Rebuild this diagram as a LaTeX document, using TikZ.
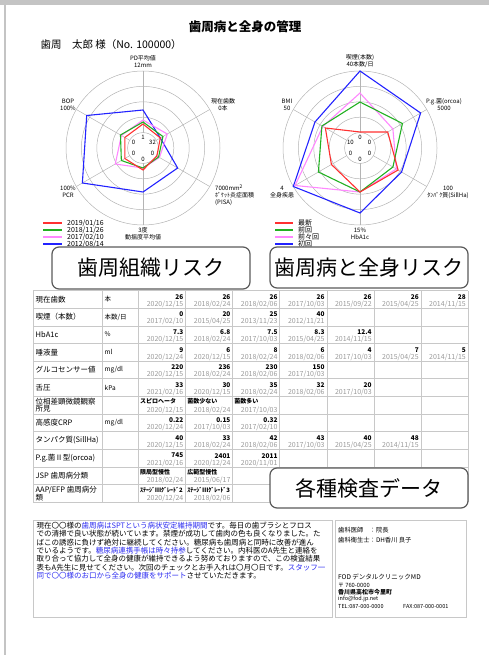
\documentclass[tikz,border=0pt]{standalone}
\usepackage{fontspec}
\setmainfont{Noto Sans CJK JP}
\usetikzlibrary{calc}

\definecolor{pageedge}{HTML}{C4C4C4}
\definecolor{gridgray}{HTML}{B4B4B4}
\definecolor{rulegray}{HTML}{C8C8C8}
\definecolor{dategray}{HTML}{9A9A9A}
\definecolor{boxgray}{HTML}{5A5A5A}
\definecolor{srred}{HTML}{FF3030}
\definecolor{srgreen}{HTML}{22B022}
\definecolor{srpink}{HTML}{FF88FF}
\definecolor{srblue}{HTML}{2222FF}
\definecolor{memoblue}{HTML}{2A2AF0}

\tikzset{
  ring/.style={draw=gridgray,line width=0.5pt},
  minval/.style={font=\fontsize{6}{7}\selectfont,inner sep=0pt},
  axislabel/.style={font=\fontsize{6}{7}\selectfont,align=center,inner sep=0pt},
  series/.style={line width=1.1pt,line join=miter},
  legendline/.style={line width=1.8pt},
  legendtext/.style={font=\fontsize{7}{8}\selectfont,anchor=west,inner sep=0pt},
  riskbox/.style={draw=boxgray,line width=1.2pt,rounded corners=7pt,fill=white,
    font=\fontsize{21}{21}\selectfont,inner sep=0pt},
  rule/.style={draw=rulegray,line width=0.6pt},
  rowlabel/.style={font=\fontsize{7.5}{6.5}\selectfont,anchor=west,align=left,inner sep=0pt},
  unitlabel/.style={font=\fontsize{6.5}{7}\selectfont,anchor=west,inner sep=0pt},
  cellval/.style={font=\fontsize{6.5}{7}\selectfont\bfseries,anchor=east,inner sep=0pt},
  celltext/.style={font=\fontsize{6}{7}\selectfont\bfseries,anchor=west,inner sep=0pt},
  celldate/.style={font=\fontsize{7}{7}\selectfont,text=dategray,anchor=east,inner sep=0pt},
  memo/.style={font=\fontsize{7.5}{8.3}\selectfont,align=left,inner sep=0pt},
  contact/.style={font=\fontsize{6.3}{7}\selectfont,anchor=west,inner sep=0pt}
}

\begin{document}
\begin{tikzpicture}[x=1pt,y=-1pt]
  % 1. Page edge and heading
  \useasboundingbox (0,0) rectangle (489,655);
  \fill[pageedge] (0,0) rectangle (489,5);
  \fill[pageedge] (4,5) rectangle (6,655);
  \node[font=\fontsize{12.5}{14}\selectfont\bfseries] (title) at (245,27) {歯周病と全身の管理};
  \node[font=\fontsize{10.5}{12}\selectfont,anchor=west] (patient) at (37,45) {歯周　太郎 様（No. 100000）};

  % 2. Left radar (periodontal tissue)
  \coordinate (lc) at (143,148);
  \foreach \k in {1,...,5}
    \draw[ring] (lc) circle[radius=\k*15.4pt];
  \foreach \a/\m in {90/1,30/32,-30/0,-90/0,-150/0,150/0} {
    \draw[ring] ($(lc)+(\a:15.4pt)$) -- ($(lc)+(\a:77pt)$);
    \node[minval] (lmin\a) at ($(lc)+(\a:11pt)$) {\m};
  }
  \node[axislabel] (lpd) at (143,61.5) {PD平均値\\12mm};
  \node[axislabel] (lteeth) at (223,105) {現在歯数\\0本};
  \node[axislabel,align=left,anchor=north west] (lpisa) at (215,184.5) {7000mm\textsuperscript{2}\\ﾎﾟｹｯﾄ炎症面積\\(PISA)};
  \node[axislabel] (lmob) at (143,233.5) {3度\\動揺度平均値};
  \node[axislabel] (lpcr) at (68,191.5) {100\%\\PCR};
  \node[axislabel] (lbop) at (68,105) {BOP\\100\%};
  \begin{scope}[shift={(lc)}]
    \draw[series,srblue] (90:38pt) -- (30:20pt) -- (-30:40pt) -- (-90:44pt) -- (-150:70pt) -- (150:65pt) -- cycle;
    \draw[series,srpink] (90:28pt) -- (30:28pt) -- (-30:19pt) -- (-90:20pt) -- (-150:32pt) -- (150:25pt) -- cycle;
    \draw[series,srgreen] (90:26pt) -- (30:23pt) -- (-30:18pt) -- (-90:20pt) -- (-150:25pt) -- (150:26pt) -- cycle;
    \draw[series,srred] (90:24pt) -- (30:20pt) -- (-30:16pt) -- (-90:22pt) -- (-150:21pt) -- (150:21pt) -- cycle;
  \end{scope}
  \foreach \i/\clr/\t in {0/srred/{2019/01/16},1/srgreen/{2018/11/26},2/srpink/{2017/02/10},3/srblue/{2012/08/14}} {
    \draw[legendline,\clr] (43,{223+7*\i}) -- (62,{223+7*\i});
    \node[legendtext] (lleg\i) at (67,{223+7*\i}) {\t};
  }
  \node[riskbox,minimum width=198pt,minimum height=42pt] (tissue) at (151,268) {歯周組織リスク};

  % 3. Right radar (systemic)
  \coordinate (rc) at (360,148);
  \foreach \k in {1,...,5}
    \draw[ring] (rc) circle[radius=\k*15.4pt];
  \foreach \a/\m in {90/0,30/0,-30/0,-90/0,-150/0,150/10} {
    \draw[ring] ($(rc)+(\a:15.4pt)$) -- ($(rc)+(\a:77pt)$);
    \node[minval] (rmin\a) at ($(rc)+(\a:11pt)$) {\m};
  }
  \node[axislabel] (rsmoke) at (360,61.5) {喫煙(本数)\\40本数/日};
  \node[axislabel] (rpg) at (444,105) {P.g.菌(orcoa)\\5000};
  \node[axislabel] (rprot) at (448,192.5) {100\\ﾀﾝﾊﾟｸ質(SillHa)};
  \node[axislabel] (rhba) at (360,233.5) {15\%\\HbA1c};
  \node[axislabel] (rdis) at (282,192.5) {4\\全身疾患};
  \node[axislabel] (rbmi) at (287,105) {BMI\\50};
  \begin{scope}[shift={(rc)}]
    \draw[series,srblue] (90:77pt) -- (30:70pt) -- (-30:48pt) -- (-90:65pt) -- (-150:77pt) -- (150:52pt) -- cycle;
    \draw[series,srpink] (90:55pt) -- (30:38pt) -- (-30:42pt) -- (-90:44pt) -- (-150:75pt) -- (150:43pt) -- cycle;
    \draw[series,srgreen] (90:46pt) -- (30:49pt) -- (-30:38pt) -- (-90:44pt) -- (-150:48pt) -- (150:44pt) -- cycle;
    \draw[series,srred] (90:16pt) -- (30:32pt) -- (-30:44pt) -- (-90:44pt) -- (-150:33pt) -- (150:40pt) -- cycle;
  \end{scope}
  \foreach \i/\clr/\t in {0/srred/最新,1/srgreen/前回,2/srpink/前々回,3/srblue/初回} {
    \draw[legendline,\clr] (275,{223+7*\i}) -- (293,{223+7*\i});
    \node[legendtext] (rleg\i) at (298,{223+7*\i}) {\t};
  }
  \node[riskbox,minimum width=198pt,minimum height=41pt] (systemic) at (369,267.5) {歯周病と全身リスク};

  % 4. Test data table
  \foreach \i in {0,...,12}
    \draw[rule] (33,{290.5+17.65*\i}) -- (468,{290.5+17.65*\i});
  \foreach \x in {33,102,138.5,185.6,232.6,279.7,326.8,373.9,420.9,468}
    \draw[rule] (\x,290.5) -- (\x,502.3);
  \foreach \rw/\lab/\unit in {1/現在歯数/本,2/喫煙（本数）/{本数/日},3/HbA1c/\%,4/唾液量/ml,
      5/グルコセンサー値/{mg/dl},6/舌圧/kPa,7/{位相差顕微鏡観察\\所見}/{},8/高感度CRP/{mg/dl},
      9/タンパク質(SillHa)/{},10/P.g.菌Ⅱ型(orcoa)/{},11/JSP 歯周病分類/{},12/{AAP/EFP 歯周病分\\類}/{}} {
    \node[rowlabel] (lab\rw) at (35.5,{290.5+17.65*(\rw-1)+8.8}) {\lab};
    \node[unitlabel] (unit\rw) at (104.5,{290.5+17.65*(\rw-1)+8.8}) {\unit};
  }
  \foreach \rw/\cl/\val/\dt in {
      1/1/26/{2020/12/15},1/2/26/{2018/02/24},1/3/26/{2018/02/06},1/4/26/{2017/10/03},
      1/5/26/{2015/09/22},1/6/26/{2015/04/25},1/7/28/{2014/11/15},
      2/1/0/{2017/02/10},2/2/20/{2015/04/25},2/3/25/{2013/11/23},2/4/40/{2012/11/21},
      3/1/7.3/{2020/12/15},3/2/6.8/{2018/02/24},3/3/7.5/{2017/10/03},3/4/8.3/{2015/04/25},3/5/12.4/{2014/11/15},
      4/1/9/{2020/12/24},4/2/6/{2020/12/15},4/3/8/{2018/02/24},4/4/6/{2018/02/06},
      4/5/4/{2017/10/03},4/6/7/{2015/04/25},4/7/5/{2014/11/15},
      5/1/220/{2020/12/15},5/2/236/{2018/02/24},5/3/230/{2018/02/06},5/4/150/{2017/10/03},
      6/1/33/{2021/02/16},6/2/30/{2020/12/15},6/3/35/{2018/02/24},6/4/32/{2018/02/06},6/5/20/{2017/10/03},
      8/1/0.22/{2020/12/24},8/2/0.15/{2017/10/03},8/3/0.32/{2017/02/10},
      9/1/40/{2020/12/15},9/2/33/{2018/02/24},9/3/42/{2018/02/06},9/4/43/{2017/10/03},
      9/5/40/{2015/04/25},9/6/48/{2014/11/15},
      10/1/745/{2021/02/16},10/2/2401/{2020/12/24},10/3/2011/{2020/11/01}} {
    \node[cellval] (val\rw-\cl) at ({138.5+47.07*\cl-2},{290.5+17.65*(\rw-1)+6.3}) {\val};
    \node[celldate] (date\rw-\cl) at ({138.5+47.07*\cl-2},{290.5+17.65*(\rw-1)+13.6}) {\dt};
  }
  \foreach \rw/\cl/\val/\dt in {
      7/1/スピロヘータ/{2020/12/15},7/2/菌数少ない/{2018/02/24},7/3/菌数多い/{2017/10/03},
      11/1/限局型慢性/{2018/02/24},11/2/広範型慢性/{2015/06/17},
      12/1/ｽﾃｰｼﾞⅢｸﾞﾚｰﾄﾞ2/{2020/12/24},12/2/ｽﾃｰｼﾞⅢｸﾞﾚｰﾄﾞ3/{2018/02/06}} {
    \node[celltext] (val\rw-\cl) at ({138.5+47.07*(\cl-1)+1.5},{290.5+17.65*(\rw-1)+5.2}) {\val};
    \node[celldate] (date\rw-\cl) at ({138.5+47.07*\cl-2},{290.5+17.65*(\rw-1)+13.6}) {\dt};
  }
  \node[riskbox,minimum width=198pt,minimum height=40pt] (tests) at (369,488) {各種検査データ};

  % 5. Comment box and clinic box
  \draw[rule] (33,520) rectangle (332,617);
  \draw[rule] (335,520) rectangle (466,617);
  \node[memo,anchor=north west] (memo) at (36.5,522) {%
    現在〇〇様の\textcolor{memoblue}{歯周病はSPTという病状安定維持期間}です。毎日の歯ブラシとフロス\\
    での清掃で良い状態が続いています。禁煙が成功して歯肉の色も良くなりました。た\\
    ばこの誘惑に負けず絶対に継続してください。糖尿病も歯周病と同時に改善が進ん\\
    でいるようです。\textcolor{memoblue}{糖尿病連携手帳は時々持参}してください。内科医のA先生と連絡を\\
    取り合って協力して全身の健康が維持できるよう努めておりますので、この検査結果\\
    表もA先生に見せてください。次回のチェックとお手入れは〇月〇日です。\textcolor{memoblue}{スタッフ一}\\
    \textcolor{memoblue}{同で〇〇様のお口から全身の健康をサポート}させていただきます。};
  \node[contact] (dentist) at (338,530) {歯科医師　：院長};
  \node[contact] (hygienist) at (338,540) {歯科衛生士：DH香川 良子};
  \node[contact,font=\fontsize{6.5}{7}\selectfont] (clinic) at (338,577) {FOD デンタルクリニックMD};
  \node[contact,font=\fontsize{5.8}{6}\selectfont] (zip) at (338,585) {〒 760-0000};
  \node[contact,font=\fontsize{6}{6}\selectfont\bfseries] (addr) at (338,592) {香川県高松市今里町};
  \node[contact,font=\fontsize{5.5}{6}\selectfont] (mail) at (338,599) {info@fod.jp.net};
  \node[contact,font=\fontsize{5.5}{6}\selectfont] (tel) at (338,607) {TEL:087-000-0000};
  \node[contact,font=\fontsize{5.5}{6}\selectfont] (fax) at (403,607) {FAX:087-000-0001};
\end{tikzpicture}
\end{document}
